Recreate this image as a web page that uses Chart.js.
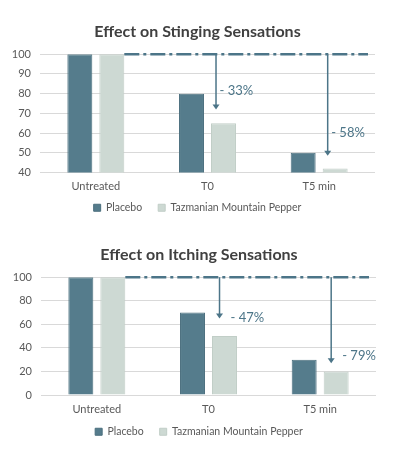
<!DOCTYPE html>
<html><head><meta charset="utf-8">
<script src="https://cdn.jsdelivr.net/npm/chart.js@4"></script>
<style>
html,body{margin:0;padding:0;background:#fff;width:398px;height:456px;overflow:hidden}
.wrap{position:absolute;left:0;width:398px;height:228px}
</style></head><body>
<div class="wrap" style="top:0"><canvas id="c1" width="398" height="228"></canvas></div>
<div class="wrap" style="top:228px"><canvas id="c2" width="398" height="228"></canvas></div>
<script>
const categories = ['Untreated', 'T0', 'T5 min'];
const seriesNames = ['Placebo', 'Tazmanian Mountain Pepper'];
const stingingPlacebo = [100, 80, 50];
const stingingPepper = [100, 65, 42];
const itchingPlacebo = [100, 70, 30];
const itchingPepper = [100, 50, 20];
const stingingTicks = [40, 50, 60, 70, 80, 90, 100];
const itchingTicks = [0, 20, 40, 60, 80, 100];
const stingingReductions = ['- 33%', '- 58%'];
const itchingReductions = ['- 47%', '- 79%'];
const stingingArrowTips = [72, 48.5];
const itchingArrowTips = [65, 27];
const stingingLabelValues = [81.5, 60.3];
const itchingLabelValues = [65.3, 33];
const baselineValue = 100;

const FONT = 'Lato, "Open Sans", sans-serif';
const C_PLACEBO = '#557C8C';
const C_PLACEBO_B = '#4B6F7E';
const C_PEPPER = '#CDD9D3';
const C_PEPPER_B = '#C1CEC7';
const C_ANNOT = '#4C7588';

const annotPlugin = {
  id: 'annot',
  afterDatasetsDraw(chart, args, opts) {
    const ctx = chart.ctx;
    const y = chart.scales.y;
    const meta = chart.getDatasetMeta(1);
    const area = chart.chartArea;
    const e0 = meta.data[0];
    const yb = y.getPixelForValue(baselineValue);
    ctx.save();
    ctx.strokeStyle = C_ANNOT;
    ctx.lineWidth = 2.5;
    ctx.setLineDash([15, 4, 3, 4]);
    ctx.beginPath();
    ctx.moveTo(e0.x + e0.width / 2, yb);
    ctx.lineTo(area.right - 7, yb);
    ctx.stroke();
    ctx.setLineDash([]);
    for (let k = 0; k < opts.tips.length; k++) {
      const el = meta.data[k + 1];
      const ax = el.x - el.width / 2 + opts.dx;
      const ty = y.getPixelForValue(opts.tips[k]);
      ctx.lineWidth = 1.5;
      ctx.beginPath();
      ctx.moveTo(ax, yb);
      ctx.lineTo(ax, ty - 4);
      ctx.stroke();
      ctx.fillStyle = C_ANNOT;
      ctx.beginPath();
      ctx.moveTo(ax - 3.5, ty - 5);
      ctx.lineTo(ax + 3.5, ty - 5);
      ctx.lineTo(ax, ty);
      ctx.closePath();
      ctx.fill();
      ctx.font = '13px ' + FONT;
      ctx.textAlign = 'left';
      ctx.textBaseline = 'middle';
      ctx.fillText(opts.labels[k], ax + opts.ldx, y.getPixelForValue(opts.labelValues[k]));
    }
    ctx.restore();
  }
};

function makeChart(id, title, placebo, pepper, ticks, annot, lay) {
  return new Chart(document.getElementById(id), {
    type: 'bar',
    data: {
      labels: categories,
      datasets: [
        { label: seriesNames[0], data: placebo, backgroundColor: C_PLACEBO, borderColor: C_PLACEBO_B, borderWidth: 1,
          categoryPercentage: 0.573, barPercentage: 0.78 },
        { label: seriesNames[1], data: pepper, backgroundColor: C_PEPPER, borderColor: C_PEPPER_B, borderWidth: 1,
          categoryPercentage: 0.573, barPercentage: 0.78 }
      ]
    },
    options: {
      responsive: false,
      animation: false,
      devicePixelRatio: 1,
      layout: { padding: lay.pad },
      plugins: {
        title: { display: true, text: title, color: '#404040',
          font: { family: FONT, size: 16, weight: 'bold' }, padding: lay.titlePad },
        legend: { position: 'bottom',
          labels: { boxWidth: 7, boxHeight: 7, color: '#595959', padding: 16,
            font: { family: FONT, size: 10.5 } } },
        tooltip: { enabled: false },
        annot: annot
      },
      scales: {
        x: {
          grid: { display: false, drawTicks: false }, border: { display: false },
          afterFit: (s) => { s.height = lay.xH; s._computeLabelArea = () => undefined; },
          ticks: { color: '#595959', font: { family: FONT, size: 11 }, padding: lay.xPad }
        },
        y: {
          min: ticks[0], max: ticks[ticks.length - 1],
          afterBuildTicks: (s) => { s.ticks = ticks.map(v => ({ value: v })); },
          afterFit: (s) => { s.width = lay.yW; },
          grid: { color: '#D9D9D9', drawTicks: false }, border: { display: false },
          ticks: { color: '#595959', font: { family: FONT, size: 11 }, padding: 9 }
        },
        yr: {
          position: 'right', display: true,
          grid: { display: false }, border: { display: false },
          ticks: { display: false },
          afterFit: (s) => { s.width = lay.rW; }
        }
      }
    },
    plugins: [annotPlugin]
  });
}

makeChart('c1', 'Effect on Stinging Sensations', stingingPlacebo, stingingPepper, stingingTicks,
  { tips: stingingArrowTips, labels: stingingReductions, labelValues: stingingLabelValues, dx: 5, ldx: 3.5 },
  { pad: { top: 8, right: 3, bottom: 5, left: 0 }, titlePad: { top: 14, bottom: 13 }, xH: 14, xPad: 7, yW: 40, rW: 20 });
makeChart('c2', 'Effect on Itching Sensations', itchingPlacebo, itchingPepper, itchingTicks,
  { tips: itchingArrowTips, labels: itchingReductions, labelValues: itchingLabelValues, dx: 7.5, ldx: 11 },
  { pad: { top: 4, right: 0, bottom: 9, left: 0 }, titlePad: { top: 13, bottom: 13 }, xH: 15.5, xPad: 8, yW: 41, rW: 22 });
</script>
</body></html>
